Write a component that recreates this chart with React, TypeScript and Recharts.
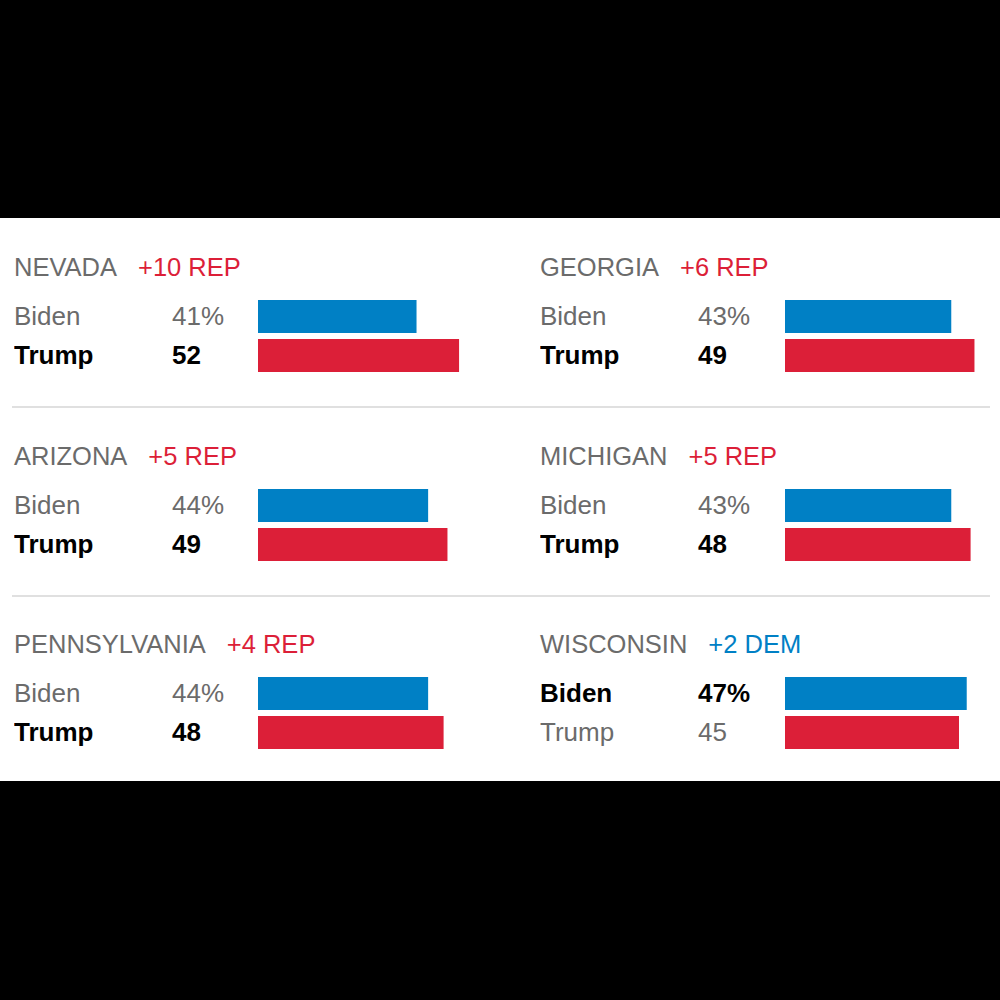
import { Bar, BarChart, Cell, XAxis, YAxis } from 'recharts';

const states = ['NEVADA', 'GEORGIA', 'ARIZONA', 'MICHIGAN', 'PENNSYLVANIA', 'WISCONSIN'];
const marginLabels = ['+10 REP', '+6 REP', '+5 REP', '+5 REP', '+4 REP', '+2 DEM'];
const candidates = ['Biden', 'Trump'];
const bidenPct = [41, 43, 44, 43, 44, 47];
const trumpPct = [52, 49, 49, 48, 48, 45];

const BLUE = '#0080c5';
const RED = '#dc1f38';
const GRAY = '#6b6b6b';
const FONT = '"Liberation Sans", Arial, sans-serif';

const COL_X = [14, 540];
const ROW_Y = [252, 440.5, 629];
const Y_AXIS_W = [244, 245];

function StatePanel({ i }: { i: number }) {
  const col = i % 2;
  const row = Math.floor(i / 2);
  const rows = [
    { name: candidates[0], value: bidenPct[i], label: `${bidenPct[i]}%`, color: BLUE },
    { name: candidates[1], value: trumpPct[i], label: `${trumpPct[i]}`, color: RED },
  ];
  const leader = bidenPct[i] > trumpPct[i] ? 0 : 1;
  const marginColor = leader === 0 ? BLUE : RED;

  const renderTick = (props: any) => {
    const idx = props.payload?.index ?? 0;
    const r = rows[idx];
    const win = idx === leader;
    const common = {
      y: props.y,
      dy: '0.34em',
      fontSize: 26,
      fontFamily: FONT,
      fontWeight: win ? 700 : 400,
      fill: win ? '#000' : GRAY,
    };
    return (
      <g>
        <text x={0} {...common}>{r.name}</text>
        <text x={158} {...common}>{r.label}</text>
      </g>
    );
  };

  return (
    <div style={{ position: 'absolute', left: COL_X[col], top: ROW_Y[row], width: 470, height: 130 }}>
      <div style={{ height: 30, lineHeight: '30px', fontSize: 25.5, fontFamily: FONT, whiteSpace: 'nowrap' }}>
        <span style={{ color: GRAY }}>{states[i]}</span>
        <span style={{ color: marginColor, marginLeft: 21 }}>{marginLabels[i]}</span>
      </div>
      <div style={{ position: 'absolute', top: 45, left: 0 }}>
        <BarChart
          width={Y_AXIS_W[col] + 232}
          height={78}
          data={rows}
          layout="vertical"
          margin={{ top: 0, right: 0, bottom: 0, left: 0 }}
          barCategoryGap={3}
        >
          <XAxis type="number" domain={[0, 60]} hide />
          <YAxis
            type="category"
            dataKey="name"
            width={Y_AXIS_W[col]}
            axisLine={false}
            tickLine={false}
            tick={renderTick}
          />
          <Bar dataKey="value" barSize={33} isAnimationActive={false}>
            {rows.map((r) => (
              <Cell key={r.name} fill={r.color} />
            ))}
          </Bar>
        </BarChart>
      </div>
    </div>
  );
}

export default function App() {
  return (
    <div style={{ position: 'absolute', left: 0, top: 0, width: 1000, height: 1000, background: '#000' }}>
      <div style={{ position: 'absolute', left: 0, top: 218, width: 1000, height: 563, background: '#fff' }}>
        <div style={{ position: 'absolute', left: 12, top: 188, width: 978, height: 2, background: '#e0e0e0' }} />
        <div style={{ position: 'absolute', left: 12, top: 377, width: 978, height: 2, background: '#e0e0e0' }} />
      </div>
      {states.map((s, i) => (
        <StatePanel key={s} i={i} />
      ))}
    </div>
  );
}
